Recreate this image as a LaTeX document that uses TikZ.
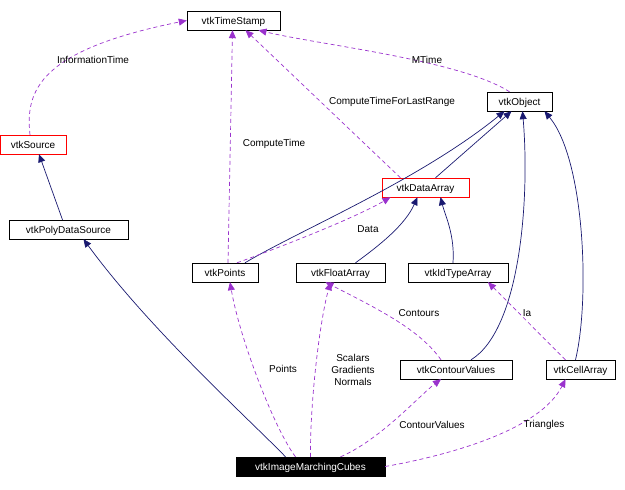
\documentclass[tikz,border=0pt]{standalone}
\usepackage{fontspec}
\setmainfont{Liberation Sans}
\usetikzlibrary{arrows.meta}
\definecolor{navy}{HTML}{191970}
\definecolor{purp}{HTML}{9A32CD}
\begin{document}
\begin{tikzpicture}[x=1pt,y=-1pt,font=\fontsize{10}{12}\selectfont,
  box/.style={draw=black,fill=white,inner sep=0pt,minimum height=19pt,text depth=0pt},
  redbox/.style={box,draw=red},
  inh/.style={draw=navy,line width=0.7pt,-{Triangle[length=8pt,width=7pt]}},
  use/.style={draw=purp,line width=0.7pt,dash pattern=on 4pt off 3pt,-{Triangle[length=8pt,width=7pt]}},
  lab/.style={inner sep=1pt,align=center}]
\useasboundingbox (0,0) rectangle (625,490);
\node[box,minimum width=93pt] (ts) at (233.5,20.5) {vtkTimeStamp};
\node[redbox,minimum width=66pt] (src) at (33,144.5) {vtkSource};
\node[box,minimum width=119pt] (pds) at (68.5,229.5) {vtkPolyDataSource};
\node[box,minimum width=65pt] (obj) at (519.5,101.5) {vtkObject};
\node[redbox,minimum width=87pt] (da) at (425.5,187.5) {vtkDataArray};
\node[box,minimum width=66pt] (pts) at (225,272.5) {vtkPoints};
\node[box,minimum width=89pt] (fa) at (340.5,272.5) {vtkFloatArray};
\node[box,minimum width=100pt] (ida) at (458,272.5) {vtkIdTypeArray};
\node[box,minimum width=112pt] (cv) at (456,369.5) {vtkContourValues};
\node[box,minimum width=69pt] (ca) at (580.5,369.5) {vtkCellArray};
\node[box,fill=black,text=white,minimum width=149pt] (imc) at (310.5,466.5) {vtkImageMarchingCubes};

\draw[use] ([xshift=-3pt]src.north) .. controls (25,90) and (40,50) .. (ts.west);
\node[lab] (l1) at (93,60) {InformationTime};
\draw[inh] ([xshift=-6pt]pds.north) -- ([xshift=6pt]src.south);
\draw[use] ([xshift=-10pt]obj.north) .. controls (460,60) and (320,45) .. ([xshift=25pt]ts.south);
\node[lab] (l2) at (427,60) {MTime};
\draw[use] ([xshift=-25pt]da.north) -- ([xshift=12pt]ts.south);
\node[lab] (l3) at (392,102) {ComputeTimeForLastRange};
\draw[use] ([xshift=3pt]pts.north) -- ([xshift=-1pt]ts.south);
\node[lab] (l4) at (274,144) {ComputeTime};
\draw[inh] ([xshift=20pt]pts.north) .. controls (300,230) and (420,180) .. ([xshift=-15pt]obj.south);
\draw[inh] ([xshift=10pt]da.north) -- ([xshift=-8pt]obj.south);
\draw[use] ([xshift=12pt]pts.north) .. controls (300,240) and (360,215) .. ([xshift=-35pt]da.south);
\node[lab] (l5) at (368,229) {Data};
\draw[inh] ([xshift=15pt]fa.north) .. controls (380,245) and (405,225) .. ([xshift=-8pt]da.south);
\draw[inh] ([xshift=-5pt]ida.north) .. controls (455,235) and (445,215) .. ([xshift=15pt]da.south);
\draw[inh] ([xshift=15pt]cv.north) .. controls (520,330) and (530,200) .. ([xshift=3pt]obj.south);
\draw[inh] ([xshift=-5pt]ca.north) .. controls (590,300) and (585,160) .. ([xshift=25pt]obj.south);
\draw[use] ([xshift=-15pt]cv.north) .. controls (420,330) and (380,310) .. ([xshift=-15pt]fa.south);
\node[lab] (l6) at (419,313) {Contours};
\draw[use] ([xshift=-15pt]ca.north) -- ([xshift=30pt]ida.south);
\node[lab] (l7) at (527,313) {Ia};
\draw[inh] ([xshift=-25pt]imc.north) .. controls (250,420) and (150,330) .. ([xshift=15pt]pds.south);
\draw[use] ([xshift=-15pt]imc.north) .. controls (275,430) and (240,340) .. ([xshift=5pt]pts.south);
\node[lab] (l8) at (283,369) {Points};
\draw[use] ([xshift=0pt]imc.north) .. controls (310,400) and (320,320) .. ([xshift=-10pt]fa.south);
\node[lab] (l9) at (353,370) {Scalars\\Gradients\\Normals};
\draw[use] ([xshift=30pt]imc.north) .. controls (380,440) and (420,395) .. ([xshift=-15pt]cv.south);
\node[lab] (l10) at (432,425) {ContourValues};
\draw[use] (imc.east) .. controls (450,455) and (540,430) .. ([xshift=-15pt]ca.south);
\node[lab] (l11) at (544,425) {Triangles};
\end{tikzpicture}
\end{document}
